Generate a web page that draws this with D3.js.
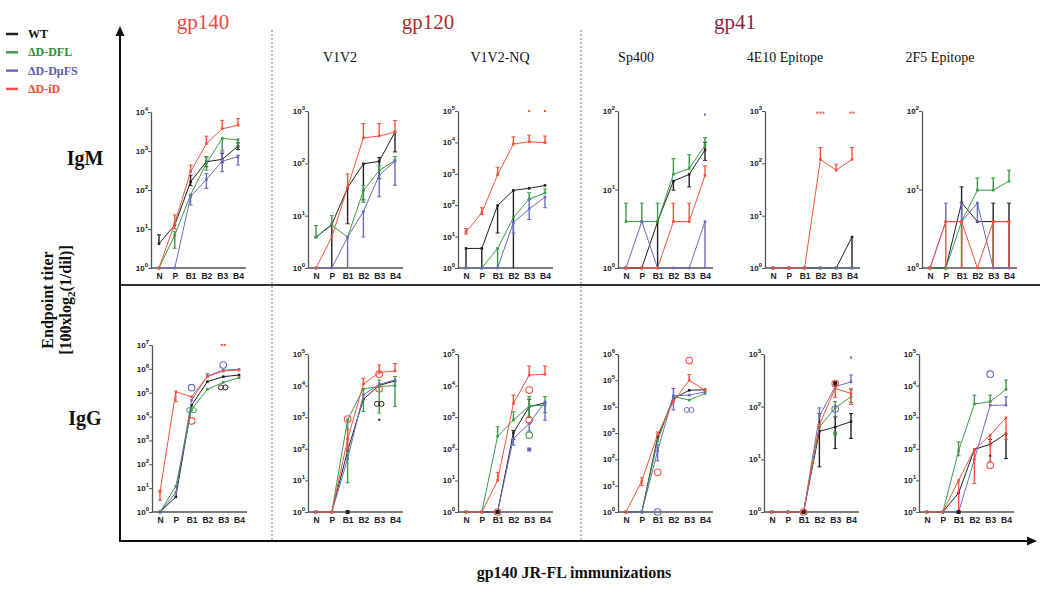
<!DOCTYPE html>
<html><head><meta charset="utf-8">
<script src="https://cdn.jsdelivr.net/npm/d3@7"></script>
<style>body{margin:0;background:#fff}svg{display:block}</style>
</head><body><svg id="c" width="1050" height="593"></svg>
<script>
// ---------- data ----------
const categories = ["N","P","B1","B2","B3","B4"];
const seriesNames = ["WT","ΔD-DFL","ΔD-DμFS","ΔD-iD"];
const groupTitles = ["gp140","gp120","gp41"];
const antigenTitles = ["V1V2","V1V2-NQ","Sp400","4E10 Epitope","2F5 Epitope"];
const isotypes = ["IgM","IgG"];
const igmTopExp = [4,3,5,2,3,2];
const iggTopExp = [7,5,5,6,3,5];

// rows: WT, DFL, DmFS, iD ; cols: N,P,B1,B2,B3,B4
const igmGp140 = [[4.2,12.7,163,530,610,1330],[1,7,75,480,2100,1950],[1,1,68,186,550,710],[1,14,295,1550,3700,4600]];
const igmGp140Hi = [[7.1,null,240,710,865,1620],[null,8.6,null,710,null,null],[null,null,74,266,950,780],[null,23,436,2400,6100,6800]];
const igmGp140Lo = [[null,null,130,395,500,1100],[null,3.2,null,324,1050,1280],[null,null,41,110,295,436],[null,10,null,null,null,null]];
const igmGp140Out = [];

const igmV1V2 = [[3.9,6.8,34,98,109,400],[3.9,6.5,3.9,30,73,114],[1,1,3.9,12,59,110],[1,3.9,35,305,333,395]];
const igmV1V2Hi = [[null,null,null,null,130,null],[6.5,10,null,38,90,135],[null,null,null,null,null,null],[null,null,63,575,575,660]];
const igmV1V2Lo = [[null,1,7,20,51,165],[null,null,null,18,null,null],[null,null,1,3.9,23,38],[null,null,null,null,null,null]];
const igmV1V2Out = [];

const igmNQ = [[4.2,4.2,98,297,345,427],[1,1,4.2,40,158,245],[1,1,1,28,76,183],[14,57,930,8900,10500,9800]];
const igmNQHi = [[null,null,null,null,null,null],[null,null,null,null,250,330],[null,null,null,null,151,null],[18,83,1620,15000,17000,16000]];
const igmNQLo = [[1,1,13,1,null,null],[null,null,1,null,null,null],[null,null,null,13,35,83],[12,50,null,null,null,null]];
const igmNQOut = [[3,4,100000,"d"],[3,5,100000,"d"]];

const igmSp400 = [[1,1,3.9,12.8,15.6,32],[3.9,3.9,3.9,15.6,18.5,36.6],[1,3.9,1,1,1,3.9],[1,1,1,3.9,3.9,15.1]];
const igmSp400Hi = [[null,null,null,null,null,40],[6.7,6.7,6.7,24.7,27.8,45.7],[null,null,null,null,null,null],[null,null,null,6.7,6.7,20]];
const igmSp400Lo = [[null,null,1,9.8,10.8,23.5],[null,null,null,null,null,null],[null,null,null,null,null,1],[null,null,null,null,null,null]];
const igmSp400Out = [[2,5,90,"d"]];

const igm4E10 = [[1,1,1,1,1,3.9],[1,1,1,1,1,1],[1,1,1,1,1,1],[1,1,1,119,74,119]];
const igm4E10Hi = [[null,null,null,null,null,null],[null,null,null,null,null,null],[null,null,null,null,null,null],[null,null,null,200,96,200]];
const igm4E10Lo = [[null,null,null,null,null,1],[null,null,null,null,null,null],[null,null,null,null,null,null],[null,null,null,null,null,null]];
const igm4E10Out = [[3,3,930,"ddd"],[3,5,930,"dd"]];

const igm2F5 = [[1,1,6.8,3.9,3.9,3.9],[1,1,3.9,9.8,9.8,12.8],[1,3.9,3.9,6.7,1,1],[1,3.9,3.9,1,3.9,3.9]];
const igm2F5Hi = [[null,null,10.8,null,6.7,6.7],[null,null,null,14,14,17.6],[null,6.7,6.8,null,null,null],[null,null,null,null,null,null]];
const igm2F5Lo = [[null,null,1,null,1,1],[null,null,null,null,null,null],[null,null,null,3.9,null,null],[null,1,1,null,1,1]];
const igm2F5Out = [];

const iggGp140 = [[1,4.3,30000,290000,470000,550000],[1,12,20000,138000,270000,425000],[1,6.5,49000,500000,890000,950000],[6.9,110000,68000,470000,810000,890000]];
const iggGp140Hi = [[null,null,null,null,null,null],[null,null,null,null,null,null],[null,null,null,620000,null,null],[8.1,null,null,null,null,null]];
const iggGp140Lo = [[null,null,null,null,null,null],[null,null,null,null,null,null],[null,null,null,null,null,null],[3.1,42000,null,null,null,null]];
const iggGp140Out = [[2,2,162000,"o"],[3,2,6600,"o"],[1,2,18600,"oo"],[2,4,1450000,"o"],[0,4,167000,"oo"],[3,4,10000000,"dd"]];

const iggV1V2 = [[1,1,87,3700,10200,14000],[1,1,830,7900,9300,10000],[1,1,48,5100,11000,15000],[1,1,200,11300,26000,29000]];
const iggV1V2Hi = [[null,null,null,null,null,null],[null,null,null,null,15000,19400],[null,null,null,null,null,null],[null,null,400,17000,45000,50000]];
const iggV1V2Lo = [[null,null,null,null,null,null],[null,null,8.4,1500,1350,2200],[null,null,null,null,null,null],[null,null,100,null,null,null]];
const iggV1V2Out = [[3,2,870,"o"],[3,4,23000,"o"],[0,4,2650,"oo"],[0,4,830,"d"],[3,4,7900,"o"],[0,2,1,"s"]];

const iggNQ = [[1,1,1,320,2140,2860],[1,1,250,810,2250,2400],[1,1,1,210,630,3070],[1,1,10,2700,21500,22800]];
const iggNQHi = [[null,null,null,380,3700,null],[null,null,500,1500,4500,4500],[null,null,null,null,null,null],[null,null,18,5000,42000,42000]];
const iggNQLo = [[null,null,null,200,1000,null],[null,null,null,null,1000,1400],[null,null,null,130,370,800],[null,null,null,null,null,null]];
const iggNQOut = [[3,4,7200,"o"],[3,4,810,"o"],[1,4,270,"o"],[2,4,95,"s"],[3,2,1,"o"],[0,2,1,"s"]];

const iggSp400 = [[1,1,690,20500,42000,44000],[1,1,490,24000,17800,31600],[1,1,205,26000,27500,36500],[1,15,870,15400,100000,42000]];
const iggSp400Hi = [[null,null,null,null,null,null],[null,null,null,null,null,null],[null,null,365,49000,null,null],[null,20,1100,null,165000,null]];
const iggSp400Lo = [[null,null,null,null,null,null],[null,null,null,null,null,null],[null,null,87,7500,null,null],[null,10,null,null,null,null]];
const iggSp400Out = [[3,4,562000,"o"],[3,2,32,"o"],[2,4,7500,"oo"],[2,2,1,"o"]];

const igg4E10 = [[1,1,1,34,41,52],[1,1,1,41,95,155],[1,1,1,66,240,295],[1,1,1,45,222,178]];
const igg4E10Hi = [[null,null,null,74,64,74],[null,null,null,null,125,210],[null,null,null,95,300,400],[null,null,null,null,280,220]];
const igg4E10Lo = [[null,null,null,7.2,16,25],[null,null,null,null,65,120],[null,null,null,null,null,null],[null,null,null,null,150,110]];
const igg4E10Out = [[0,4,275,"s"],[3,4,275,"o"],[2,4,90,"o"],[2,5,860,"d"],[1,4,31,"s"],[0,2,1,"s"],[3,2,1,"o"]];

const igg2F5 = [[1,1,4,95,140,300],[1,1,86,2600,3080,7600],[1,1,1,46,2400,2400],[1,1,10,95,270,960]];
const igg2F5Hi = [[null,null,null,null,200,null],[null,null,165,5000,5000,15000],[null,null,null,null,null,4400],[null,null,null,null,null,null]];
const igg2F5Lo = [[null,null,null,null,null,49],[null,null,60,null,null,null],[null,null,null,null,null,null],[null,null,1,7.9,40,200]];
const igg2F5Out = [[2,4,23000,"o"],[3,4,30,"o"],[0,4,60,"d"],[0,2,1,"s"]];

// ---------- styles / layout ----------
const colors = ["#222222","#3d9a47","#6b6bbd","#f2533f"];
const legendText = ["#111111","#2f8f3a","#5b5bb0","#f04a36"];
const svg = d3.select("#c");
const serif = "'Liberation Serif','Times New Roman',serif";
const sans = "'Liberation Sans',Arial,sans-serif";

const axisXs = [151,308,458,618,765,922];
const axisXsG = [152,308,458,618,764,919];
const panelsM = [[igmGp140,igmGp140Hi,igmGp140Lo,igmGp140Out],[igmV1V2,igmV1V2Hi,igmV1V2Lo,igmV1V2Out],[igmNQ,igmNQHi,igmNQLo,igmNQOut],[igmSp400,igmSp400Hi,igmSp400Lo,igmSp400Out],[igm4E10,igm4E10Hi,igm4E10Lo,igm4E10Out],[igm2F5,igm2F5Hi,igm2F5Lo,igm2F5Out]];
const panelsG = [[iggGp140,iggGp140Hi,iggGp140Lo,iggGp140Out],[iggV1V2,iggV1V2Hi,iggV1V2Lo,iggV1V2Out],[iggNQ,iggNQHi,iggNQLo,iggNQOut],[iggSp400,iggSp400Hi,iggSp400Lo,iggSp400Out],[igg4E10,igg4E10Hi,igg4E10Lo,igg4E10Out],[igg2F5,igg2F5Hi,igg2F5Lo,igg2F5Out]];

function drawPanel(x0, yTop, yBot, topExp, p){
  const [vals, hi, lo, out] = p;
  const g = svg.append("g");
  const y = d3.scaleLog().domain([1, Math.pow(10, topExp)]).range([yBot, yTop]);
  const x = d3.scalePoint().domain(categories).range([x0 + 8, x0 + 87]);
  const ticks = d3.range(0, topExp + 1).map(e => Math.pow(10, e));
  const ya = g.append("g").attr("transform", `translate(${x0},0)`)
    .call(d3.axisLeft(y).tickValues(ticks).tickSize(3).tickSizeOuter(0));
  ya.select(".domain").attr("stroke", "#555").attr("stroke-width", 1.3);
  ya.selectAll(".tick line").attr("stroke", "#555");
  ya.selectAll(".tick text").each(function(d){
    const t = d3.select(this).text("").attr("font-family", sans).attr("font-size", 8).attr("font-weight", "bold").attr("fill", "#222").attr("x", -3);
    t.append("tspan").text("10");
    t.append("tspan").attr("dy", -4).attr("font-size", 6).text(Math.round(Math.log10(d)));
  });
  g.append("line").attr("x1", x0).attr("x2", x0 + 95).attr("y1", yBot).attr("y2", yBot).attr("stroke", "#555").attr("stroke-width", 1.3);
  const xa = g.append("g").attr("transform", `translate(0,${yBot})`).call(d3.axisBottom(x).tickSize(0).tickPadding(5));
  xa.select(".domain").remove();
  xa.selectAll(".tick text").attr("font-family", sans).attr("font-size", 8.5).attr("font-weight", "bold").attr("fill", "#222");

  const line = d3.line().x((d, i) => x(categories[i])).y(d => y(d));
  vals.forEach((row, s) => {
    const c = colors[s];
    g.append("path").attr("d", line(row)).attr("fill", "none").attr("stroke", c).attr("stroke-width", 1);
    row.forEach((v, i) => {
      const cx = x(categories[i]);
      const h = hi[s][i], l = lo[s][i];
      if (h != null || l != null) {
        const top = y(h != null ? h : v), bot = y(l != null ? l : v);
        g.append("line").attr("x1", cx).attr("x2", cx).attr("y1", top).attr("y2", bot).attr("stroke", c).attr("stroke-width", 1.4);
        if (h != null) g.append("line").attr("x1", cx - 2).attr("x2", cx + 2).attr("y1", top).attr("y2", top).attr("stroke", c);
        if (l != null && l > 1) g.append("line").attr("x1", cx - 2).attr("x2", cx + 2).attr("y1", bot).attr("y2", bot).attr("stroke", c);
      }
      g.append("rect").attr("x", cx - 1.3).attr("y", y(v) - 1.3).attr("width", 2.6).attr("height", 2.6).attr("fill", c);
    });
  });
  out.forEach(([s, i, v, shape]) => {
    const c = colors[s], cx = x(categories[i]), cy = y(v);
    if (shape === "o") g.append("circle").attr("cx", cx).attr("cy", cy).attr("r", 3.3).attr("fill", "none").attr("stroke", c).attr("stroke-width", 1.1);
    else if (shape === "oo") [-2.3, 2.3].forEach(dx => g.append("circle").attr("cx", cx + dx).attr("cy", cy).attr("r", 2.5).attr("fill", "none").attr("stroke", c).attr("stroke-width", 1));
    else if (shape === "s") g.append("rect").attr("x", cx - 2).attr("y", cy - 2).attr("width", 4).attr("height", 4).attr("fill", c);
    else {
      const n = shape.length, offs = d3.range(n).map(k => (k - (n - 1) / 2) * 3);
      offs.forEach(dx => g.append("rect").attr("x", cx + dx - 1).attr("y", cy - 1).attr("width", 2).attr("height", 2).attr("fill", c));
    }
  });
}

panelsM.forEach((p, k) => drawPanel(axisXs[k], k === 0 ? 112 : 111, 268, igmTopExp[k], p));
panelsG.forEach((p, k) => drawPanel(axisXsG[k], k === 0 ? 345 : 354, 512, iggTopExp[k], p));

// ---------- frame ----------
[272, 581].forEach(xx => svg.append("line").attr("x1", xx).attr("x2", xx).attr("y1", 30).attr("y2", 541)
  .attr("stroke", "#777").attr("stroke-width", 1).attr("stroke-dasharray", "2,2"));
svg.append("line").attr("x1", 120).attr("x2", 1040).attr("y1", 285).attr("y2", 285).attr("stroke", "#333").attr("stroke-width", 2);
svg.append("line").attr("x1", 120).attr("x2", 120).attr("y1", 542).attr("y2", 32).attr("stroke", "#111").attr("stroke-width", 2);
svg.append("path").attr("d", "M120,26 L115.5,36 L124.5,36 Z").attr("fill", "#111");
svg.append("line").attr("x1", 119).attr("x2", 1030).attr("y1", 541).attr("y2", 541).attr("stroke", "#111").attr("stroke-width", 2);
svg.append("path").attr("d", "M1037,541 L1027,536.5 L1027,545.5 Z").attr("fill", "#111");

// ---------- titles ----------
const titleColors = ["#ec4a3c","#a8302c","#8e1f45"];
const titleX = [203, 428, 735];
groupTitles.forEach((t, i) => svg.append("text").attr("x", titleX[i]).attr("y", 29).attr("text-anchor", "middle")
  .attr("font-family", serif).attr("font-size", 21).attr("fill", titleColors[i]).text(t));
const subX = [340, 500, 636, 785, 940];
antigenTitles.forEach((t, i) => svg.append("text").attr("x", subX[i]).attr("y", 62).attr("text-anchor", "middle")
  .attr("font-family", serif).attr("font-size", 14).attr("fill", "#111").text(t));

// legend
seriesNames.forEach((n, i) => {
  const yy = 34 + i * 18.3;
  svg.append("line").attr("x1", 6).attr("x2", 18).attr("y1", yy).attr("y2", yy).attr("stroke", colors[i]).attr("stroke-width", 2.5);
  svg.append("text").attr("x", 28).attr("y", yy + 4).attr("font-family", serif).attr("font-size", 12).attr("font-weight", "bold")
    .attr("fill", legendText[i]).text(n);
});

// left labels
[165, 425].forEach((yy, i) => svg.append("text").attr("x", 85).attr("y", yy).attr("text-anchor", "middle")
  .attr("font-family", serif).attr("font-size", 20).attr("font-weight", "bold").attr("fill", "#111").text(isotypes[i]));
svg.append("text").attr("transform", "translate(53,300) rotate(-90)").attr("text-anchor", "middle")
  .attr("font-family", serif).attr("font-size", 16).attr("font-weight", "bold").attr("fill", "#111").text("Endpoint titer");
const yl = svg.append("text").attr("transform", "translate(71,300) rotate(-90)").attr("text-anchor", "middle")
  .attr("font-family", serif).attr("font-size", 16).attr("font-weight", "bold").attr("fill", "#111");
yl.append("tspan").text("[100xlog");
yl.append("tspan").attr("font-size", 11).attr("dy", 4).text("2");
yl.append("tspan").attr("dy", -4).text("(1/dil)]");

svg.append("text").attr("x", 574).attr("y", 578).attr("text-anchor", "middle")
  .attr("font-family", serif).attr("font-size", 16).attr("font-weight", "bold").attr("fill", "#111").text("gp140 JR-FL immunizations");
</script>
</body></html>
